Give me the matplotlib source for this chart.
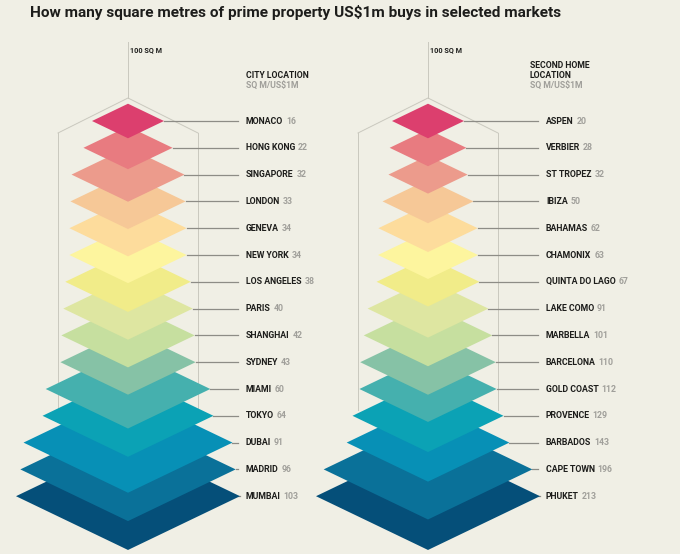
import matplotlib.pyplot as plt
from matplotlib.patches import Polygon

# city locations, top to bottom (sq m per US$1m)
city_names = ['MONACO', 'HONG KONG', 'SINGAPORE', 'LONDON', 'GENEVA', 'NEW YORK',
              'LOS ANGELES', 'PARIS', 'SHANGHAI', 'SYDNEY', 'MIAMI', 'TOKYO',
              'DUBAI', 'MADRID', 'MUMBAI']
city_values = [16, 22, 32, 33, 34, 34, 38, 40, 42, 43, 60, 64, 91, 96, 103]

# second home locations
second_names = ['ASPEN', 'VERBIER', 'ST TROPEZ', 'IBIZA', 'BAHAMAS', 'CHAMONIX',
                'QUINTA DO LAGO', 'LAKE COMO', 'MARBELLA', 'BARCELONA', 'GOLD COAST',
                'PROVENCE', 'BARBADOS', 'CAPE TOWN', 'PHUKET']
second_values = [20, 28, 32, 50, 62, 63, 67, 91, 101, 110, 112, 129, 143, 196, 213]

palette = ['#dc3f6e', '#e87b80', '#ec9b8c', '#f6c897', '#fddc9c', '#fdf59e',
           '#f1ec89', '#dee6a1', '#c6df9f', '#86c2a6', '#45b0ae', '#0ba2b5',
           '#0790b6', '#0a7199', '#054f79']

BG = '#f0efe5'
DARK = '#1d1d1b'
GREY = '#a09f9a'
FONT = 'Roboto'

fig = plt.figure(figsize=(6.8, 5.54), dpi=100, facecolor=BG)
ax = fig.add_axes([0, 0, 1, 1])
ax.set_facecolor(BG)
ax.set_xlim(0, 680)
ax.set_ylim(554, 0)
ax.axis('off')

ax.text(30, 12, 'How many square metres of prime property US$1m buys in selected markets',
        fontsize=11.1, fontweight='bold', family=FONT, color=DARK, va='center')


def stack(cx, names, values, power, label_x, header, header_x):
    y0, step = 121, 26.8
    ratio = 0.48
    lo, hi = min(values) ** power, max(values) ** power

    def half_w(v):
        return 36 + 76 * (v ** power - lo) / (hi - lo)

    # reference cube (100 sq m)
    bw, bh, by = 70, 35, 133
    line_kw = dict(color='#c9c8be', lw=0.7, zorder=1)
    ax.plot([cx - bw, cx, cx + bw], [by, by - bh, by], **line_kw)
    ax.plot([cx - bw, cx - bw], [by, 410], **line_kw)
    ax.plot([cx + bw, cx + bw], [by, 410], **line_kw)
    ax.plot([cx, cx], [42, by - bh], **line_kw)
    ax.text(cx + 2, 50, '100 SQ M', fontsize=5.2, fontweight='bold', family=FONT,
            color=DARK, va='center')

    hy = 85
    for k, line in enumerate(reversed(header)):
        ax.text(header_x, hy - 9.5 * (k + 1), line,
                fontsize=6.2, fontweight='bold', family=FONT, color=DARK, va='center')
    ax.text(header_x, hy, 'SQ M/US\\$1M',
            fontsize=6.2, fontweight='bold', family=FONT, color=GREY, va='center')

    n = len(values)
    for i, (name, v) in enumerate(zip(names, values)):
        y = y0 + i * step
        w = half_w(v)
        h = w * ratio
        ax.add_patch(Polygon([(cx - w, y), (cx, y - h), (cx + w, y), (cx, y + h)],
                             closed=True, facecolor=palette[i], edgecolor='none',
                             zorder=10 + n - i + 20))
        ax.plot([cx + w, label_x - 8], [y, y], color='#8d8c86', lw=0.9, zorder=5)
        t = ax.text(label_x, y, name, fontsize=6.3, fontweight='bold', family=FONT,
                    color=DARK, va='center')
        ax.annotate(str(v), xy=(1, 0.5), xycoords=t, xytext=(2, 0),
                    textcoords='offset points', fontsize=6.3, fontweight='bold',
                    family=FONT, color=GREY, va='center')


stack(128, city_names, city_values, 0.5, 246, ['CITY LOCATION'], 246)
stack(428, second_names, second_values, 1.2, 546, ['SECOND HOME', 'LOCATION'], 530)

fig.savefig('out.png', dpi=100, facecolor=BG)
